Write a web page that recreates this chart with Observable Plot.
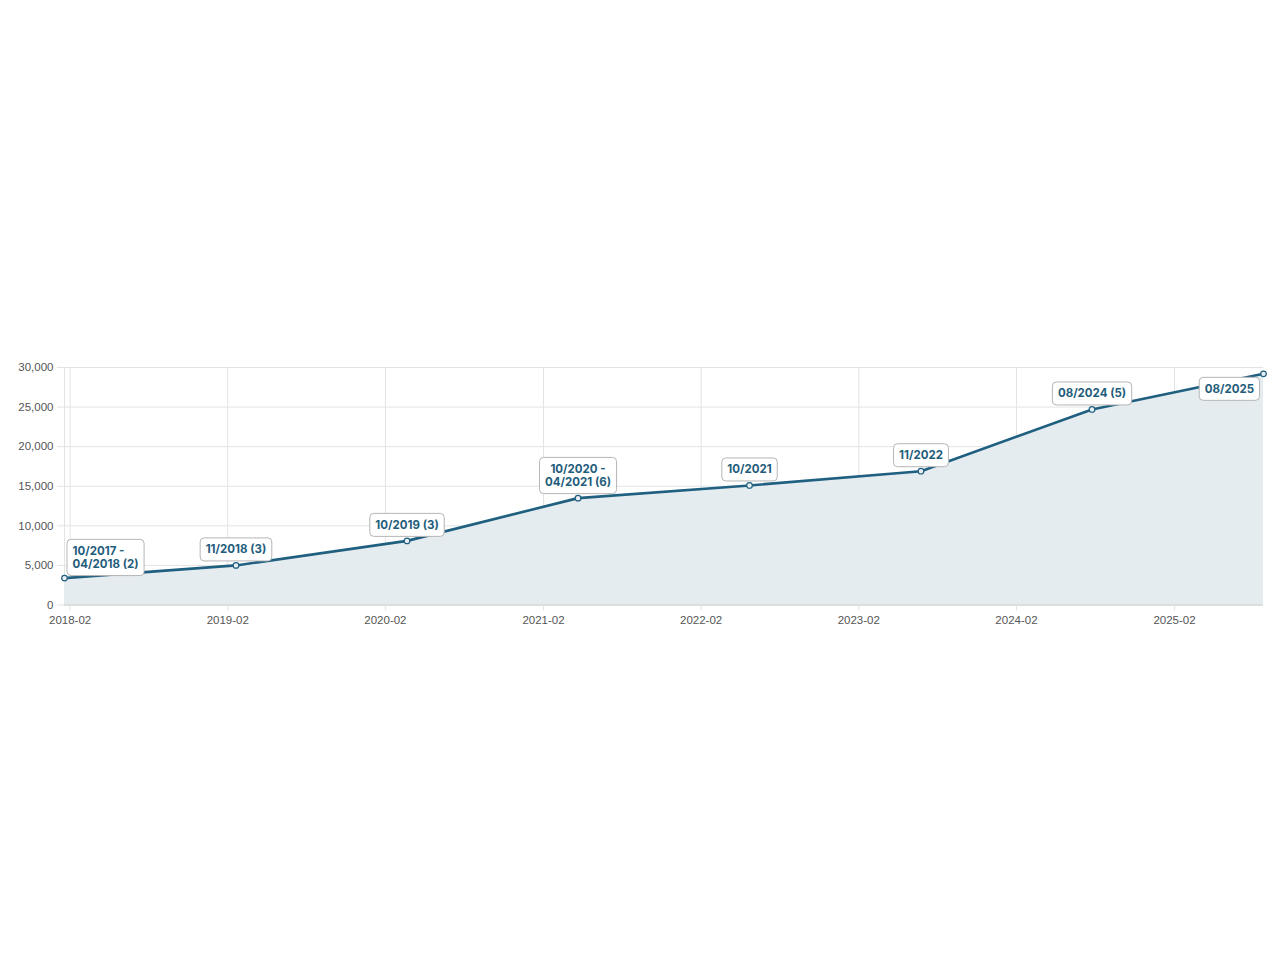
<!DOCTYPE html>
<html>
<head>
<meta charset="utf-8">
<script src="https://cdn.jsdelivr.net/npm/d3@7"></script>
<script src="https://cdn.jsdelivr.net/npm/@observablehq/plot@0.6"></script>
<style>
  html, body { margin: 0; padding: 0; background: #fff; }
  #chart { width: 1280px; height: 960px; }
</style>
</head>
<body>
<div id="chart"></div>
<script>
// ---- data ----
const dates = ["2018-01-19", "2019-02-20", "2020-03-22", "2021-04-22", "2022-05-24", "2023-06-25", "2024-07-25", "2025-08-26"];
const values = [3400, 5000, 8100, 13500, 15100, 16900, 24700, 29200];
const labels = ["10/2017 -\n04/2018 (2)", "11/2018 (3)", "10/2019 (3)", "10/2020 -\n04/2021 (6)", "10/2021", "11/2022", "08/2024 (5)", "08/2025"];
const yTicks = [0, 5000, 10000, 15000, 20000, 25000, 30000];
const xTickLabels = ["2018-02", "2019-02", "2020-02", "2021-02", "2022-02", "2023-02", "2024-02", "2025-02"];

const parseDate = d3.utcParse("%Y-%m-%d");
const parseTick = d3.utcParse("%Y-%m");
const data = dates.map((d, i) => ({date: parseDate(d), value: values[i], label: labels[i], i}));
const xTicks = xTickLabels.map(parseTick);
const n = data.length;

const lineColor = "#1f5f80";
const gridColor = "#e3e3e3";
const labelFont = {fontFamily: "Inter, 'Liberation Sans', sans-serif", fontWeight: 700, fontSize: 11.5, fill: "#1f5d7c", lineHeight: 1.15, ariaDescription: "point-label"};

const chart = Plot.plot({
  width: 1280,
  height: 960,
  marginLeft: 64,
  marginRight: 17,
  marginTop: 367,
  marginBottom: 355.5,
  style: {fontFamily: "'Liberation Sans', Arial, sans-serif", fontSize: "11.5px", color: "#555", background: "#fff"},
  x: {type: "utc", domain: [data[0].date, data[n - 1].date]},
  y: {domain: [0, 30000]},
  marks: [
    Plot.gridY(yTicks, {stroke: gridColor, strokeOpacity: 1}),
    Plot.gridX(xTicks, {stroke: gridColor, strokeOpacity: 1}),
    Plot.ruleX([data[0].date], {stroke: gridColor}),
    Plot.areaY(data, {x: "date", y: "value", fill: "#e5ecf0"}),
    Plot.ruleY([0], {stroke: "#cccccc"}),
    Plot.axisY({ticks: yTicks, tickFormat: d3.format(","), tickSize: 7, tickPadding: 4, stroke: gridColor, fill: "#555", label: null}),
    Plot.axisX({ticks: xTicks, tickFormat: d3.utcFormat("%Y-%m"), tickSize: 6, tickPadding: 5, stroke: gridColor, fill: "#555", label: null}),
    Plot.lineY(data, {x: "date", y: "value", stroke: lineColor, strokeWidth: 2.6}),
    Plot.dot(data, {x: "date", y: "value", r: 2.8, stroke: lineColor, strokeWidth: 1.2, fill: "#e8eef2"}),
    // first label: to the upper right
    Plot.text(data.filter(d => d.i === 0), {x: "date", y: "value", text: "label", textAnchor: "start", lineAnchor: "bottom", dx: 8, dy: -10, ...labelFont}),
    // middle labels: centred above
    Plot.text(data.filter(d => d.i > 0 && d.i < n - 1), {x: "date", y: "value", text: "label", textAnchor: "middle", lineAnchor: "bottom", dy: -12, ...labelFont}),
    // last label: below left
    Plot.text(data.filter(d => d.i === n - 1), {x: "date", y: "value", text: "label", textAnchor: "end", lineAnchor: "bottom", dx: -9.5, dy: 19, ...labelFont})
  ]
});

document.getElementById("chart").appendChild(chart);

// rounded boxes behind the point labels
const svgns = "http://www.w3.org/2000/svg";
const labelTexts = new Set([
  ...chart.querySelectorAll('[aria-description="point-label"] text'),
  ...chart.querySelectorAll('g[aria-label="point-label"] text'),
  ...chart.querySelectorAll('text[aria-label="point-label"]')
]);
labelTexts.forEach(t => {
  const b = t.getBBox();
  const padX = 5.5, padY = 4.5;
  const r = document.createElementNS(svgns, "rect");
  r.setAttribute("x", b.x - padX);
  r.setAttribute("y", b.y - padY);
  r.setAttribute("width", b.width + 2 * padX);
  r.setAttribute("height", b.height + 2 * padY);
  r.setAttribute("rx", 4);
  r.setAttribute("fill", "#ffffff");
  r.setAttribute("stroke", "#b5b5b5");
  r.setAttribute("stroke-width", 1);
  const tr = t.getAttribute("transform");
  if (tr) r.setAttribute("transform", tr);
  t.parentNode.insertBefore(r, t);
});
</script>
</body>
</html>
